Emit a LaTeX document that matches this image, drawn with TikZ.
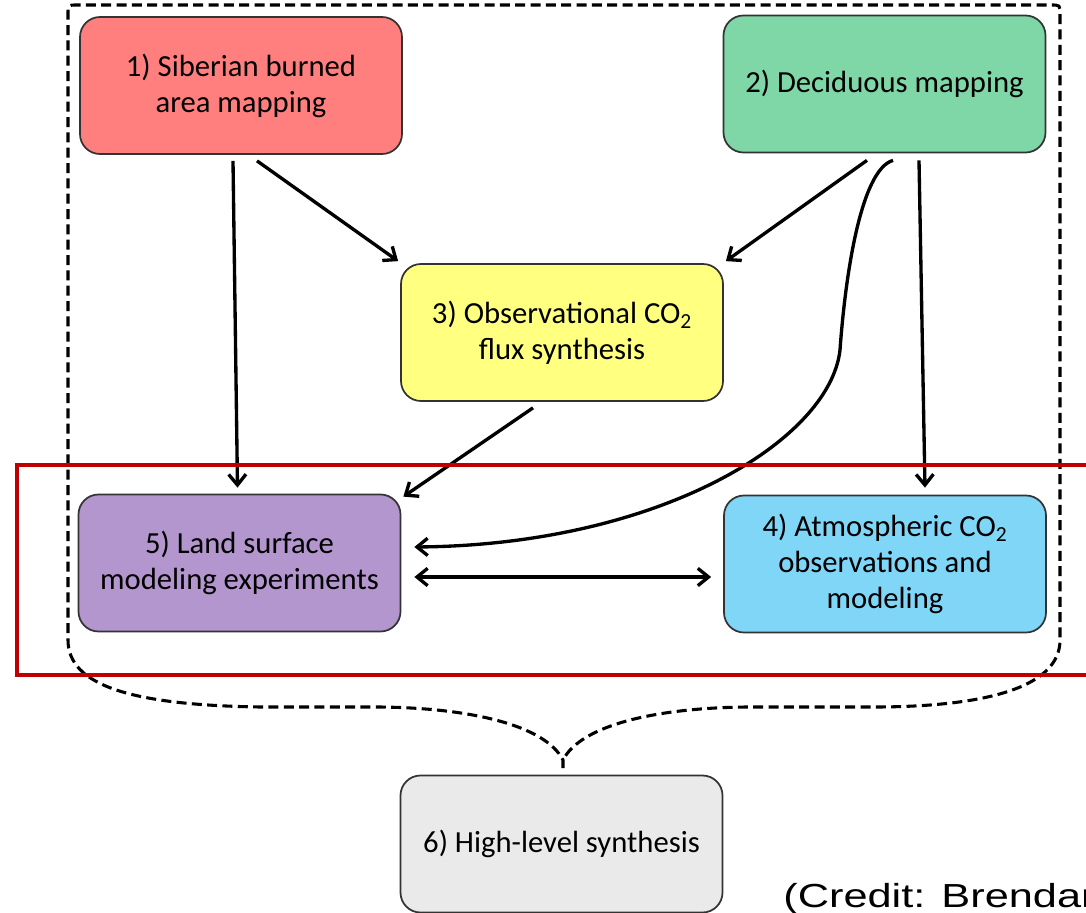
\documentclass[tikz,border=0pt]{standalone}
\usepackage{fontspec}
\setmainfont{Carlito}
\newfontfamily\creditfont{Liberation Sans}
\usetikzlibrary{arrows.meta}
\tikzset{every picture/.style={
  >={Straight Barb[length=8pt,width=13pt]}   % open arrow heads
  }
}
\definecolor{burnred}{HTML}{FF7F7F}
\definecolor{decidgreen}{HTML}{7FD7A7}
\definecolor{fluxyellow}{HTML}{FFFF80}
\definecolor{atmosblue}{HTML}{7FD6F7}
\definecolor{landpurple}{HTML}{B496CF}
\definecolor{synthgray}{HTML}{EAEAEA}
\definecolor{framered}{HTML}{C00000}

\begin{document}
\begin{tikzpicture}[x=0.75pt,y=-0.75pt,
        task/.style={
          rectangle,
          rounded corners=15pt,
          minimum width=241.5pt,
          minimum height=102.75pt,
          text centered,
          align=center,
          draw=black!80,
          line width=1.3pt,
          font=\fontsize{23}{27}\selectfont,
        },
        link/.style={line width=2.5pt,->},
        brace/.style={line width=2.3pt,dash pattern=on 7.5pt off 4pt},
        ]
      \useasboundingbox (0,0) rectangle (1086,913);
      % dashed grouping outline
      \draw[brace] (563,768) -- (563,760)
        .. controls (545,725) and (470,708) .. (380,707) -- (260,707)
        .. controls (130,705) and (68,685) .. (68,640) -- (68,14)
        .. controls (68,5) .. (77,5) -- (1051,5)
        .. controls (1060,5) .. (1060,14) -- (1060,640)
        .. controls (1060,686) and (990,706) .. (880,707) -- (746,707)
        .. controls (656,708) and (581,725) .. (563,760);
      \node[task,fill=burnred] (burned) at (241,85.5) {1) Siberian burned\\area mapping};
      \node[task,fill=decidgreen] (decid) at (884.5,84) {2) Deciduous mapping};
      \node[task,fill=fluxyellow] (flux) at (562,332.5) {3) Observational CO\textsubscript{2}\\flux synthesis};
      \node[task,fill=atmosblue] (atmos) at (885,564) {4) Atmospheric CO\textsubscript{2}\\observations and\\modeling};
      \node[task,fill=landpurple] (land) at (239.5,563) {5) Land surface\\modeling experiments};
      \node[task,fill=synthgray] (synth) at (561.5,844) {6) High-level synthesis};
      \draw[link] ([shift={(-8,6)}]burned.south) -- ([shift={(-2,-6)}]land.north);
      \draw[link] ([shift={(16,6)}]burned.south) -- ([shift={(-2,-2)}]flux.north west);
      \draw[link] ([shift={(-17.5,7)}]decid.south) -- ([shift={(2,-2)}]flux.north east);
      \draw[link] ([shift={(8.5,7)}]decid.south)
        .. controls (860,170) and (845,280) .. (840,350)
        .. controls (830,440) and (660,545) .. ([shift={(13,-16)}]land.east);
      \draw[link] ([shift={(34.5,7)}]decid.south) -- ([shift={(40,-7)}]atmos.north);
      \draw[link] ([shift={(-29,6)}]flux.south) -- ([shift={(2,3)}]land.north east);
      \draw[link,<->] ([shift={(13,14)}]land.east) -- ([shift={(-12,13)}]atmos.west);
      % highlight frame
      \draw[framered,line width=3.3pt] (17,465) rectangle (1110,675);
      \node[anchor=base west,inner sep=0pt,xscale=1.3,font=\creditfont\fontsize{25}{30}\selectfont] (credit) at (783,907) {(Credit: Brendan};
      \end{tikzpicture}
\end{document}
